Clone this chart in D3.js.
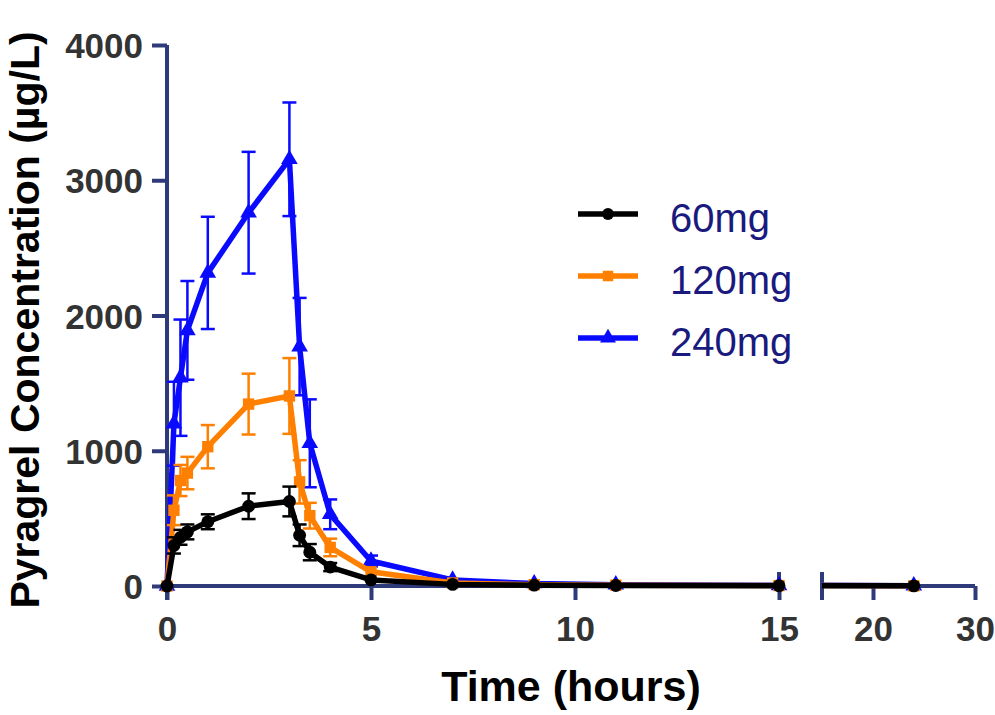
<!DOCTYPE html>
<html lang="en">

<head>
  <meta charset="UTF-8" />
  <script src="https://cdn.jsdelivr.net/npm/d3@7/dist/d3.min.js"></script>
  <title>Pyragrel concentration</title>
  <style>
    body { margin: 0; background: #fff; }
    text { font-family: "Liberation Sans", Arial, sans-serif; }
  </style>
</head>

<body>
  <svg width="995" height="715"></svg>
  <script>
    // sampling times (hours)
    const times = [0, 0.17, 0.33, 0.5, 1, 2, 3, 3.25, 3.5, 4, 5, 7, 9, 11, 15, 24];
    const doses = ["60mg", "120mg", "240mg"];
    // mean concentrations (ug/L)
    const mean60 = [0, 300, 360, 400, 475, 590, 625, 375, 250, 140, 45, 12, 6, 4, 2, 1];
    const mean120 = [0, 560, 780, 835, 1030, 1345, 1405, 770, 520, 285, 105, 22, 10, 6, 3, 1];
    const mean240 = [0, 1200, 1540, 1890, 2315, 2760, 3155, 1770, 1055, 530, 185, 45, 18, 10, 5, 2];
    // standard deviations
    const sd60 = [0, 60, 55, 55, 55, 95, 110, 80, 60, 30, 10, 4, 2, 1, 1, 0];
    const sd120 = [0, 110, 115, 120, 160, 225, 280, 160, 95, 65, 25, 6, 3, 2, 1, 0];
    const sd240 = [0, 310, 430, 365, 415, 450, 420, 360, 325, 110, 40, 8, 4, 3, 2, 1];
    const yTicks = [0, 1000, 2000, 3000, 4000];
    const xTicks1 = [0, 5, 10, 15];
    const xTicks2 = [20, 30];

    const svg = d3.select("svg");
    const axisColor = "#2e3a7a";

    const y = d3.scaleLinear().domain([0, 4000]).range([586, 45]);
    const x1 = d3.scaleLinear().domain([0, 15]).range([167, 779]);
    const x2 = d3.scaleLinear().domain([15, 30]).range([822, 975]);
    const xPos = (t, seg) => (seg === 2 ? x2(t) : x1(t));

    const series = [
      { name: doses[2], mean: mean240, sd: sd240, color: "#0a0aff", shape: d3.symbolTriangle, size: 120 },
      { name: doses[1], mean: mean120, sd: sd120, color: "#ff8000", shape: d3.symbolSquare, size: 130 },
      { name: doses[0], mean: mean60, sd: sd60, color: "#000000", shape: d3.symbolCircle, size: 130 }
    ];

    // axes
    const yAxis = svg.append("g")
      .attr("transform", "translate(167,0)")
      .call(d3.axisLeft(y).tickValues(yTicks).tickFormat(d3.format("d"))
        .tickSize(15).tickPadding(9).tickSizeOuter(0));
    yAxis.select(".domain").remove();
    yAxis.append("line").attr("x1", 0).attr("x2", 0).attr("y1", y(4000)).attr("y2", y(0) + 14);

    const xAxis1 = svg.append("g")
      .attr("transform", "translate(0,586)")
      .call(d3.axisBottom(x1).tickValues(xTicks1).tickSize(14).tickPadding(16).tickSizeOuter(0));
    xAxis1.select(".domain").remove();
    xAxis1.append("line").attr("x1", x1(0)).attr("x2", x1(15)).attr("y1", 0).attr("y2", 0);
    xAxis1.append("line").attr("x1", x1(15)).attr("x2", x1(15)).attr("y1", -14).attr("y2", 0);

    const xAxis2 = svg.append("g")
      .attr("transform", "translate(0,586)")
      .call(d3.axisBottom(x2).tickValues(xTicks2).tickSize(14).tickPadding(16).tickSizeOuter(0));
    xAxis2.select(".domain").remove();
    xAxis2.append("line").attr("x1", x2(15)).attr("x2", x2(30)).attr("y1", 0).attr("y2", 0);
    xAxis2.append("line").attr("x1", x2(15)).attr("x2", x2(15)).attr("y1", -14).attr("y2", 14);

    [yAxis, xAxis1, xAxis2].forEach(g => {
      g.selectAll("line").attr("stroke", axisColor).attr("stroke-width", 4);
      g.selectAll("text")
        .attr("fill", "#333")
        .style("font-size", "35px")
        .style("font-weight", "bold");
    });
    yAxis.selectAll(".tick text").attr("dy", "0.36em");

    // series
    series.forEach(s => {
      const pts = times.map((t, i) => ({ t, v: s.mean[i], sd: s.sd[i] }));
      const seg1 = pts.filter(d => d.t <= 15);
      const seg2 = pts.filter(d => d.t >= 15);
      const g = svg.append("g");

      const line1 = d3.line().x(d => x1(d.t)).y(d => y(d.v));
      const line2 = d3.line().x(d => x2(d.t)).y(d => y(d.v));
      g.append("path").datum(seg1).attr("d", line1)
        .attr("fill", "none").attr("stroke", s.color).attr("stroke-width", 5.5).attr("stroke-linejoin", "round");
      g.append("path").datum(seg2).attr("d", line2)
        .attr("fill", "none").attr("stroke", s.color).attr("stroke-width", 5.5);

      const markPts = pts.map(d => ({ ...d, seg: d.t > 15 ? 2 : 1 }));
      const bars = markPts.filter(d => d.sd > 0);
      g.selectAll(".err").data(bars).enter().append("line")
        .attr("x1", d => xPos(d.t, d.seg)).attr("x2", d => xPos(d.t, d.seg))
        .attr("y1", d => y(d.v + d.sd)).attr("y2", d => y(Math.max(0, d.v - d.sd)))
        .attr("stroke", s.color).attr("stroke-width", 2.5);
      [1, -1].forEach(dir => {
        g.selectAll(".cap" + dir).data(bars.filter(d => d.sd > 25)).enter().append("line")
          .attr("x1", d => xPos(d.t, d.seg) - 7).attr("x2", d => xPos(d.t, d.seg) + 7)
          .attr("y1", d => y(d.v + dir * d.sd)).attr("y2", d => y(d.v + dir * d.sd))
          .attr("stroke", s.color).attr("stroke-width", 2.5);
      });
      g.selectAll(".mark").data(markPts).enter().append("path")
        .attr("transform", d => `translate(${xPos(d.t, d.seg)},${y(d.v)})`)
        .attr("d", d3.symbol().type(s.shape).size(s.size))
        .attr("fill", s.color);
    });

    // legend
    const legendY = d3.scalePoint().domain(doses).range([214, 338]);
    const legendColors = { "60mg": "#000000", "120mg": "#ff8000", "240mg": "#0a0aff" };
    const legendShapes = { "60mg": d3.symbolCircle, "120mg": d3.symbolSquare, "240mg": d3.symbolTriangle };
    const legend = svg.append("g");
    doses.forEach(name => {
      const ly = legendY(name);
      legend.append("line").attr("x1", 578).attr("x2", 638).attr("y1", ly).attr("y2", ly)
        .attr("stroke", legendColors[name]).attr("stroke-width", 5.5);
      legend.append("path").attr("transform", `translate(608,${ly})`)
        .attr("d", d3.symbol().type(legendShapes[name]).size(110))
        .attr("fill", legendColors[name]);
      legend.append("text").attr("x", 670).attr("y", ly + 18)
        .attr("fill", "#1a1a7e").style("font-size", "40px").text(name);
    });

    // axis titles
    svg.append("text").attr("x", 571).attr("y", 701).attr("text-anchor", "middle")
      .style("font-size", "43px").style("font-weight", "bold").text("Time (hours)");
    svg.append("text").attr("transform", "translate(39,320) rotate(-90)").attr("text-anchor", "middle")
      .style("font-size", "41px").style("font-weight", "bold").text("Pyragrel Concentration (µg/L)");
  </script>
</body>

</html>
